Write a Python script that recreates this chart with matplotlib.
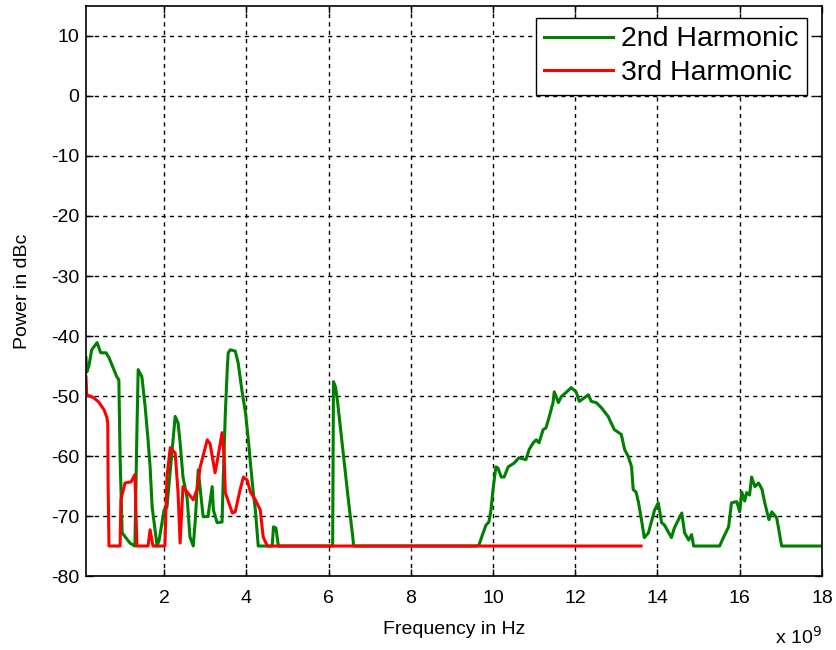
import matplotlib.pyplot as plt

plt.rcParams["font.family"] = ["Liberation Sans", "DejaVu Sans"]
plt.rcParams["axes.unicode_minus"] = False

# frequency in GHz (axis shows x 10^9 Hz), power in dBc
f_2nd = [0.10, 0.12, 0.17, 0.24, 0.37, 0.46, 0.59, 0.66, 0.78, 0.85, 0.90, 0.93,
         0.98, 1.17, 1.29, 1.34, 1.37, 1.46, 1.54, 1.61, 1.66, 1.71, 1.78, 1.83,
         1.88, 2.00, 2.07, 2.27, 2.34, 2.39, 2.46, 2.56, 2.63, 2.71, 2.76, 2.83,
         2.95, 3.07, 3.10, 3.17, 3.20, 3.29, 3.41, 3.44, 3.49, 3.54, 3.56, 3.61,
         3.73, 3.80, 3.90, 3.98, 4.05, 4.10, 4.17, 4.22, 4.29, 4.63, 4.66, 4.72,
         4.78, 6.10, 6.12, 6.17, 6.22, 6.34, 6.41, 6.49, 6.59, 6.61, 9.60, 9.66,
         9.76, 9.83, 9.90, 9.95, 10.00, 10.07, 10.12, 10.20, 10.27, 10.37, 10.51,
         10.63, 10.80, 10.88, 10.98, 11.05, 11.12, 11.22, 11.29, 11.37, 11.46,
         11.49, 11.59, 11.66, 11.78, 11.90, 12.02, 12.10, 12.22, 12.32, 12.39,
         12.51, 12.63, 12.80, 12.95, 13.12, 13.20, 13.29, 13.37, 13.41, 13.48,
         13.54, 13.61, 13.68, 13.78, 13.93, 14.02, 14.10, 14.17, 14.34, 14.41,
         14.59, 14.66, 14.76, 14.83, 14.88, 15.51, 15.61, 15.73, 15.80, 15.93,
         16.00, 16.05, 16.12, 16.17, 16.24, 16.29, 16.37, 16.46, 16.54, 16.61,
         16.71, 16.78, 16.90, 16.98, 17.02, 18.00]
p_2nd = [-43.6, -46.0, -45.0, -42.3, -41.1, -42.8, -42.8, -43.6, -45.6, -46.8, -47.3, -60.1,
         -72.8, -74.5, -75.0, -55.6, -45.6, -46.8, -51.8, -57.3, -61.8, -68.5, -72.3, -75.0,
         -74.0, -69.0, -68.5, -53.4, -54.5, -57.8, -63.5, -67.0, -73.5, -75.0, -70.6, -62.3,
         -70.1, -70.1, -68.5, -65.1, -69.0, -71.1, -71.0, -63.5, -52.8, -45.0, -42.8, -42.3,
         -42.5, -44.4, -49.4, -52.8, -57.3, -61.2, -66.1, -69.0, -75.0, -75.0, -71.8, -72.0,
         -75.0, -75.0, -47.6, -48.5, -51.0, -58.4, -62.8, -67.8, -73.5, -75.0, -75.0, -74.8,
         -72.8, -71.5, -71.0, -69.0, -65.6, -61.8, -62.0, -63.5, -63.5, -61.8, -61.2,
         -60.3, -60.6, -58.9, -57.8, -57.3, -57.8, -55.6, -55.3, -53.4, -51.1,
         -49.3, -51.1, -50.1, -49.4, -48.6, -49.3, -50.9, -50.3, -49.8, -50.9,
         -51.1, -51.9, -53.4, -55.6, -56.4, -58.9, -60.1, -61.8, -65.6, -66.0,
         -67.8, -70.6, -73.6, -72.8, -69.0, -67.8, -71.1, -71.5, -73.6, -72.0,
         -69.5, -72.8, -74.0, -73.1, -75.0, -75.0, -73.5, -71.8, -67.8, -67.6,
         -69.3, -66.0, -67.5, -66.1, -66.5, -63.5, -65.1, -64.5, -65.5, -67.8,
         -70.6, -69.3, -70.3, -73.5, -75.0, -75.0]

f_3rd = [0.10, 0.12, 0.29, 0.41, 0.54, 0.61, 0.63, 0.64, 0.66, 0.93, 0.95, 1.05,
         1.20, 1.29, 1.34, 1.61, 1.66, 1.73, 2.02, 2.07, 2.15, 2.27, 2.34, 2.39,
         2.46, 2.56, 2.71, 2.80, 2.88, 3.05, 3.12, 3.24, 3.29, 3.41, 3.46, 3.49,
         3.66, 3.73, 3.85, 3.93, 4.02, 4.10, 4.22, 4.34, 4.41, 4.51, 13.60]
p_3rd = [-46.8, -49.8, -50.3, -51.0, -52.3, -53.6, -54.5, -65.0, -75.0, -75.0, -67.3, -64.5,
         -64.3, -63.1, -75.0, -75.0, -72.3, -75.0, -75.0, -63.5, -58.6, -59.5, -66.1, -74.5,
         -65.1, -66.0, -67.3, -65.6, -61.8, -57.3, -58.0, -62.8, -61.0, -56.1, -60.0, -66.1,
         -69.5, -69.3, -65.6, -63.5, -64.0, -66.0, -67.3, -69.0, -73.5, -75.0, -75.0]

x_ticks = [2, 4, 6, 8, 10, 12, 14, 16, 18]
y_ticks = [-80, -70, -60, -50, -40, -30, -20, -10, 0, 10]

fig = plt.figure(figsize=(8.37, 6.5), dpi=100)
ax = fig.add_axes([0.1027, 0.1138, 0.8793, 0.877])

ax.plot(f_2nd, p_2nd, color="#008000", lw=2.2, label="2nd Harmonic")
ax.plot(f_3rd, p_3rd, color="#ff0000", lw=2.2, label="3rd Harmonic")

ax.set_xlim(0.1, 18)
ax.set_ylim(-80, 15)
ax.set_xticks(x_ticks)
ax.set_yticks(y_ticks)
ax.tick_params(direction="in", length=5, width=1, top=True, right=True,
               labelsize=14)
ax.tick_params(axis="x", pad=10)
ax.tick_params(axis="y", pad=5)
ax.grid(True, color="black", linestyle=(0, (3, 3)), linewidth=1)
for s in ax.spines.values():
    s.set_linewidth(1.2)

ax.set_xlabel("Frequency in Hz", fontsize=14, labelpad=10)
ax.set_ylabel("Power in dBc", fontsize=14, labelpad=14)
ax.text(1.0, -0.107, r"x 10$^9$", transform=ax.transAxes, ha="right",
        va="center", fontsize=14)

leg = ax.legend(loc="upper right", bbox_to_anchor=(0.98, 0.979), fontsize=20.5,
                fancybox=False, framealpha=1, edgecolor="black",
                handlelength=2.4, borderpad=0.3, labelspacing=0.27,
                handletextpad=0.3, borderaxespad=0)
leg.get_frame().set_linewidth(1)

fig.savefig("out.png", dpi=100)
